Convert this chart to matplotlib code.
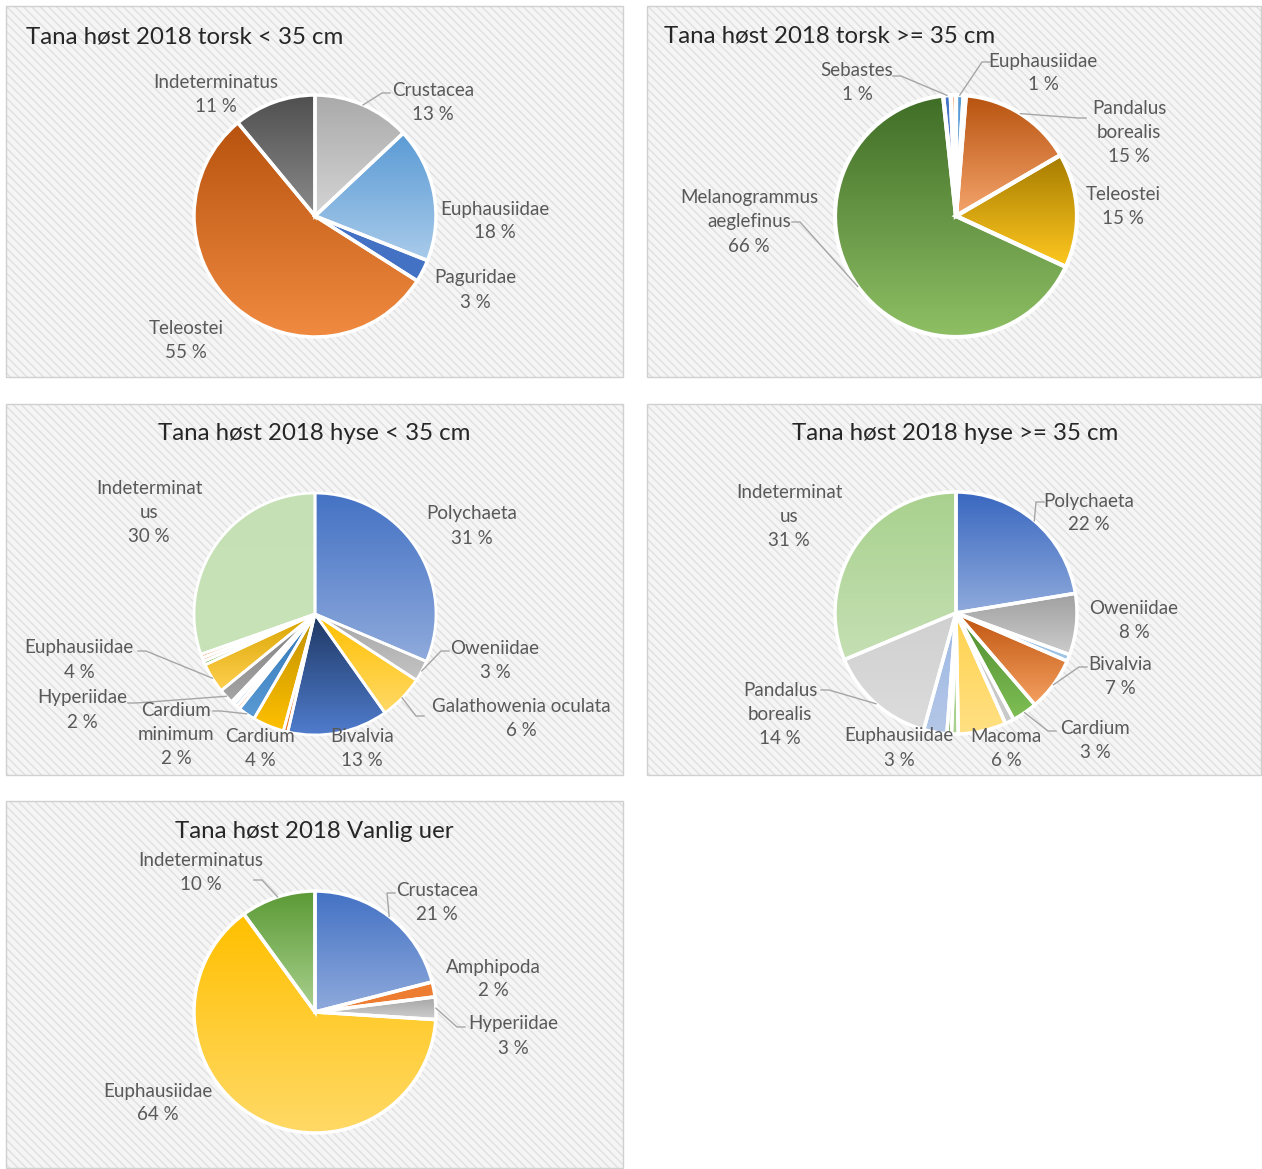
import matplotlib
matplotlib.use("Agg")
import matplotlib.pyplot as plt
import numpy as np
from matplotlib.colors import to_rgb
from matplotlib.patches import Rectangle

plt.rcParams['font.family'] = ['Lato', 'DejaVu Sans']

W, H = 1262, 1169

# --- data (percent of stomach content) ---
torsk_small_names = ["Crustacea", "Euphausiidae", "Paguridae", "Teleostei", "Indeterminatus"]
torsk_small_values = [13, 18, 3, 55, 11]

torsk_big_names = ["Euphausiidae", "", "Pandalus\nborealis", "Teleostei",
                   "Melanogrammus\naeglefinus", "Sebastes", ""]
torsk_big_values = [1.0, 0.3, 15.3, 15.3, 66.4, 1.0, 0.7]

hyse_small_names = ["Polychaeta", "Oweniidae", "Galathowenia oculata", "Bivalvia", "",
                    "Cardium", "Cardium\nminimum", "", "", "", "Hyperiidae", "Euphausiidae",
                    "", "", "", "Indeterminat\nus"]
hyse_small_values = [31.4, 2.8, 6.0, 13.4, 0.6, 4.2, 2.3, 0.5, 0.5, 0.4, 2.0, 4.0,
                     0.5, 0.5, 0.5, 30.4]

hyse_big_names = ["Polychaeta", "Oweniidae", "", "Bivalvia", "Cardium", "", "Macoma",
                  "", "", "Euphausiidae", "Pandalus\nborealis", "Indeterminat\nus"]
hyse_big_values = [22.4, 8.2, 0.9, 7.2, 3.4, 1.2, 6.4, 0.9, 0.6, 3.1, 14.4, 31.3]

uer_names = ["Crustacea", "Amphipoda", "Hyperiidae", "Euphausiidae", "Indeterminatus"]
uer_values = [21, 2, 3, 64, 10]

# --- colours (top, bottom of gradient) ---
torsk_small_colors = [('#aaaaaa', '#d4d4d4'), ('#5b9bd5', '#a9cbea'), ('#4472c4', '#4472c4'),
                      ('#b8530f', '#f08a40'), ('#505050', '#8a8a8a')]
torsk_big_colors = [('#5b9bd5', '#5b9bd5'), ('#2f5597', '#2f5597'), ('#b8530f', '#f4a46c'),
                    ('#a67c00', '#ffc820'), ('#3f6d26', '#8ebf64'), ('#4472c4', '#5b8bd5'),
                    ('#f4b183', '#f4b183')]
hyse_small_colors = [('#4472c4', '#8faadc'), ('#a5a5a5', '#c4c4c4'), ('#ffc000', '#ffd966'),
                     ('#1f3864', '#4f7ccc'), ('#ed7d31', '#ed7d31'), ('#bf9000', '#ffc000'),
                     ('#2e75b6', '#5b9bd5'), ('#f8cbad', '#f8cbad'), ('#bdd7ee', '#bdd7ee'),
                     ('#f8cbad', '#f8cbad'), ('#7f7f7f', '#a5a5a5'), ('#d9a400', '#ffd050'),
                     ('#70ad47', '#70ad47'), ('#f8cbad', '#f8cbad'), ('#f4b183', '#f4b183'),
                     ('#c5e0b4', '#c9e3b9')]
hyse_big_colors = [('#3a68c0', '#8faadc'), ('#a0a0a0', '#cccccc'), ('#9dc3e6', '#9dc3e6'),
                   ('#c05510', '#f4a060'), ('#4e8a2e', '#7fbf55'), ('#c9c9c9', '#c9c9c9'),
                   ('#ffd24d', '#ffe083'), ('#a9d18e', '#a9d18e'), ('#70ad47', '#70ad47'),
                   ('#9db8e4', '#b4c7e7'), ('#d0d0d0', '#dcdcdc'), ('#a9d18e', '#c5e0b4')]
uer_colors = [('#4472c4', '#8faadc'), ('#ed7d31', '#ed7d31'), ('#a5a5a5', '#d0d0d0'),
              ('#ffc000', '#ffd966'), ('#5c9a36', '#a9d18e')]

# --- layout, in pixels from top-left of the image ---
R = 121
panels = [
    dict(box=(6, 6, 623, 377), title="Tana høst 2018 torsk < 35 cm", tpos=(26, 37), tha='left',
         center=(315, 216), names=torsk_small_names, values=torsk_small_values,
         colors=torsk_small_colors, lw=2.5,
         labels={"Crustacea": (433, 102, (390, 93)), "Euphausiidae": (495, 221, None),
                 "Paguridae": (475, 290, None), "Teleostei": (186, 340, None),
                 "Indeterminatus": (216, 95, None)}),
    dict(box=(647, 6, 1261, 377), title="Tana høst 2018 torsk >= 35 cm", tpos=(664, 36), tha='left',
         center=(956, 216), names=torsk_big_names, values=torsk_big_values,
         colors=torsk_big_colors, lw=3,
         labels={"Euphausiidae": (1043, 73, (990, 62)),
                 "Pandalus\nborealis": (1129, 133, (1086, 118)),
                 "Teleostei": (1123, 206, None),
                 "Melanogrammus\naeglefinus": (749, 222, (792, 222)),
                 "Sebastes": (857, 83, (893, 76))}),
    dict(box=(6, 404, 623, 775), title="Tana høst 2018 hyse < 35 cm", tpos=(314, 434), tha='center',
         center=(315, 614), names=hyse_small_names, values=hyse_small_values,
         colors=hyse_small_colors, lw=2,
         labels={"Polychaeta": (472, 526, None), "Oweniidae": (495, 661, (449, 651)),
                 "Galathowenia oculata": (521, 719, (424, 716)),
                 "Bivalvia": (362, 748, None), "Cardium": (260, 748, None),
                 "Cardium\nminimum": (176, 734, (213, 711)),
                 "Hyperiidae": (82, 710, (128, 703)),
                 "Euphausiidae": (79, 660, (138, 651)),
                 "Indeterminat\nus": (149, 512, None)}),
    dict(box=(647, 404, 1261, 775), title="Tana høst 2018 hyse >= 35 cm", tpos=(955, 434), tha='center',
         center=(956, 613), names=hyse_big_names, values=hyse_big_values,
         colors=hyse_big_colors, lw=2.5,
         labels={"Polychaeta": (1089, 513, (1044, 502)), "Oweniidae": (1134, 621, None),
                 "Bivalvia": (1120, 677, (1087, 667)), "Cardium": (1095, 741, (1056, 731)),
                 "Macoma": (1006, 748, None), "Euphausiidae": (899, 748, None),
                 "Pandalus\nborealis": (780, 714, (821, 690)),
                 "Indeterminat\nus": (789, 516, None)}),
    dict(box=(6, 801, 623, 1168), title="Tana høst 2018 Vanlig uer", tpos=(314, 832), tha='center',
         center=(315, 1012), names=uer_names, values=uer_values,
         colors=uer_colors, lw=2.5,
         labels={"Indeterminatus": (201, 873, (254, 880)), "Crustacea": (437, 903, (395, 893)),
                 "Amphipoda": (493, 979, None), "Hyperiidae": (513, 1036, (465, 1027)),
                 "Euphausiidae": (158, 1103, None)}),
]


def P(x, y):
    return x, H - y


fig = plt.figure(figsize=(W / 100, H / 100), dpi=100)
ax = fig.add_axes([0, 0, 1, 1])

for p in panels:
    x0, y0, x1, y1 = p['box']
    ax.add_patch(Rectangle(P(x0, y1), x1 - x0, y1 - y0, facecolor='#f5f5f5',
                           edgecolor='#e0e0e0', hatch='\\\\\\\\', lw=0, zorder=0))
    ax.add_patch(Rectangle(P(x0, y1), x1 - x0, y1 - y0, fill=False,
                           edgecolor='#d0d0d0', lw=1, zorder=1))
    ax.text(*P(*p['tpos']), p['title'], ha=p['tha'], va='center', fontsize=17.3, color='#262626')

    cx, cy = P(*p['center'])
    wedges, _ = ax.pie(p['values'], center=(cx, cy), radius=R, startangle=90,
                       counterclock=False, frame=True,
                       wedgeprops=dict(edgecolor='white', linewidth=p['lw']))
    total = sum(p['values'])
    for w, (top, bot), name, v in zip(wedges, p['colors'], p['names'], p['values']):
        w.set_facecolor('none')
        w.set_zorder(3)
        bb = w.get_path().get_extents()
        t = np.linspace(0, 1, 64)[:, None]
        img = (np.array(to_rgb(top)) * (1 - t) + np.array(to_rgb(bot)) * t)[:, None, :]
        im = ax.imshow(img, extent=(bb.x0, bb.x1, bb.y0, bb.y1), origin='upper',
                       aspect='auto', interpolation='bilinear', zorder=2)
        im.set_clip_path(w)

        if not name:
            continue
        lx, ly, lead = p['labels'][name]
        ax.text(*P(lx, ly), f"{name}\n{round(v / total * 100)} %", ha='center', va='center',
                fontsize=13.5, color='#595959', linespacing=1.5, zorder=5)
        if lead is not None:
            ang = np.deg2rad((w.theta1 + w.theta2) / 2)
            ex, ey = cx + R * np.cos(ang), cy + R * np.sin(ang)
            sx, sy = P(*lead)
            elbow = sx + (8 if ex > sx else -8)
            ax.plot([sx, elbow, ex], [sy, sy, ey], color='#a6a6a6', lw=1, zorder=4)

ax.set_xlim(0, W)
ax.set_ylim(0, H)
ax.axis('off')
fig.savefig("out.png", dpi=100, facecolor='white')
